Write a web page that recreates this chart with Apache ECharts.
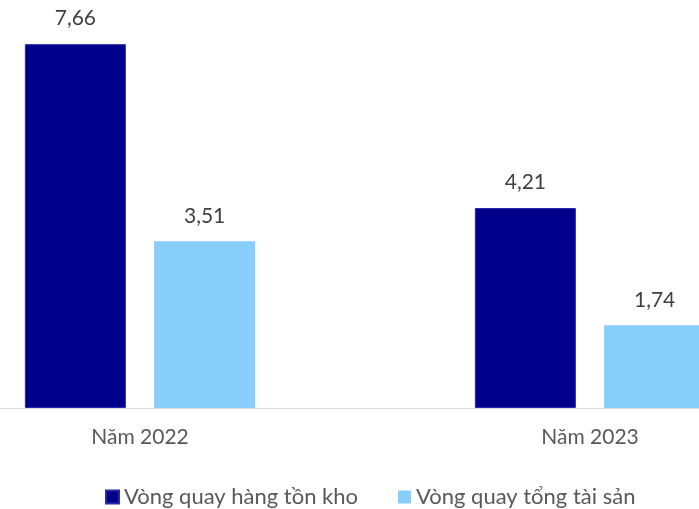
<!DOCTYPE html>
<html>
<head>
<meta charset="utf-8">
<script src="https://cdn.jsdelivr.net/npm/echarts@6/dist/echarts.min.js"></script>
<style>
  html, body { margin: 0; padding: 0; background: #fff; overflow: hidden; }
  /* khung rộng hơn cửa sổ để cắt hai bên như ảnh gốc */
  #chart { width: 900px; height: 509px; margin-left: -85px; }
</style>
</head>
<body>
<div id="chart"></div>
<script>
// dữ liệu
const categories = ['Năm 2022', 'Năm 2023'];
const hangTonKho = [7.66, 4.21];
const tongTaiSan = [3.51, 1.74];

const chart = echarts.init(document.getElementById('chart'), null, { renderer: 'canvas' });

const fontFamily = 'Lato, "Open Sans", sans-serif';
const labelStyle = {
  show: true,
  position: 'top',
  distance: 15,
  color: '#404040',
  fontSize: 21,
  fontFamily,
  formatter: (p) => p.value.toFixed(2).replace('.', ',')
};

chart.setOption({
  backgroundColor: '#fff',
  animation: false,
  grid: { left: 0, right: 0, top: 28, bottom: 101 },
  legend: {
    left: 185,
    top: 481,
    itemWidth: 13,
    itemHeight: 13,
    itemGap: 40,
    icon: 'rect',
    textStyle: { color: '#595959', fontSize: 22, fontFamily },
    data: ['Vòng quay hàng tồn kho', 'Vòng quay tổng tài sản']
  },
  xAxis: {
    type: 'category',
    data: categories,
    axisLine: { lineStyle: { color: '#d9d9d9', width: 1 } },
    axisTick: { show: false },
    axisLabel: { color: '#595959', fontSize: 21, fontFamily, margin: 19 }
  },
  yAxis: {
    type: 'value',
    min: 0,
    max: 8,
    show: false,
    splitLine: { show: false }
  },
  series: [
    {
      name: 'Vòng quay hàng tồn kho',
      type: 'bar',
      data: hangTonKho,
      barWidth: 101,
      barGap: '28%',
      itemStyle: { color: '#00008b', borderColor: '#2a2aa8', borderWidth: 1 },
      label: labelStyle
    },
    {
      name: 'Vòng quay tổng tài sản',
      type: 'bar',
      data: tongTaiSan,
      barWidth: 101,
      itemStyle: { color: '#87cefa' },
      label: labelStyle
    }
  ]
});
</script>
</body>
</html>
